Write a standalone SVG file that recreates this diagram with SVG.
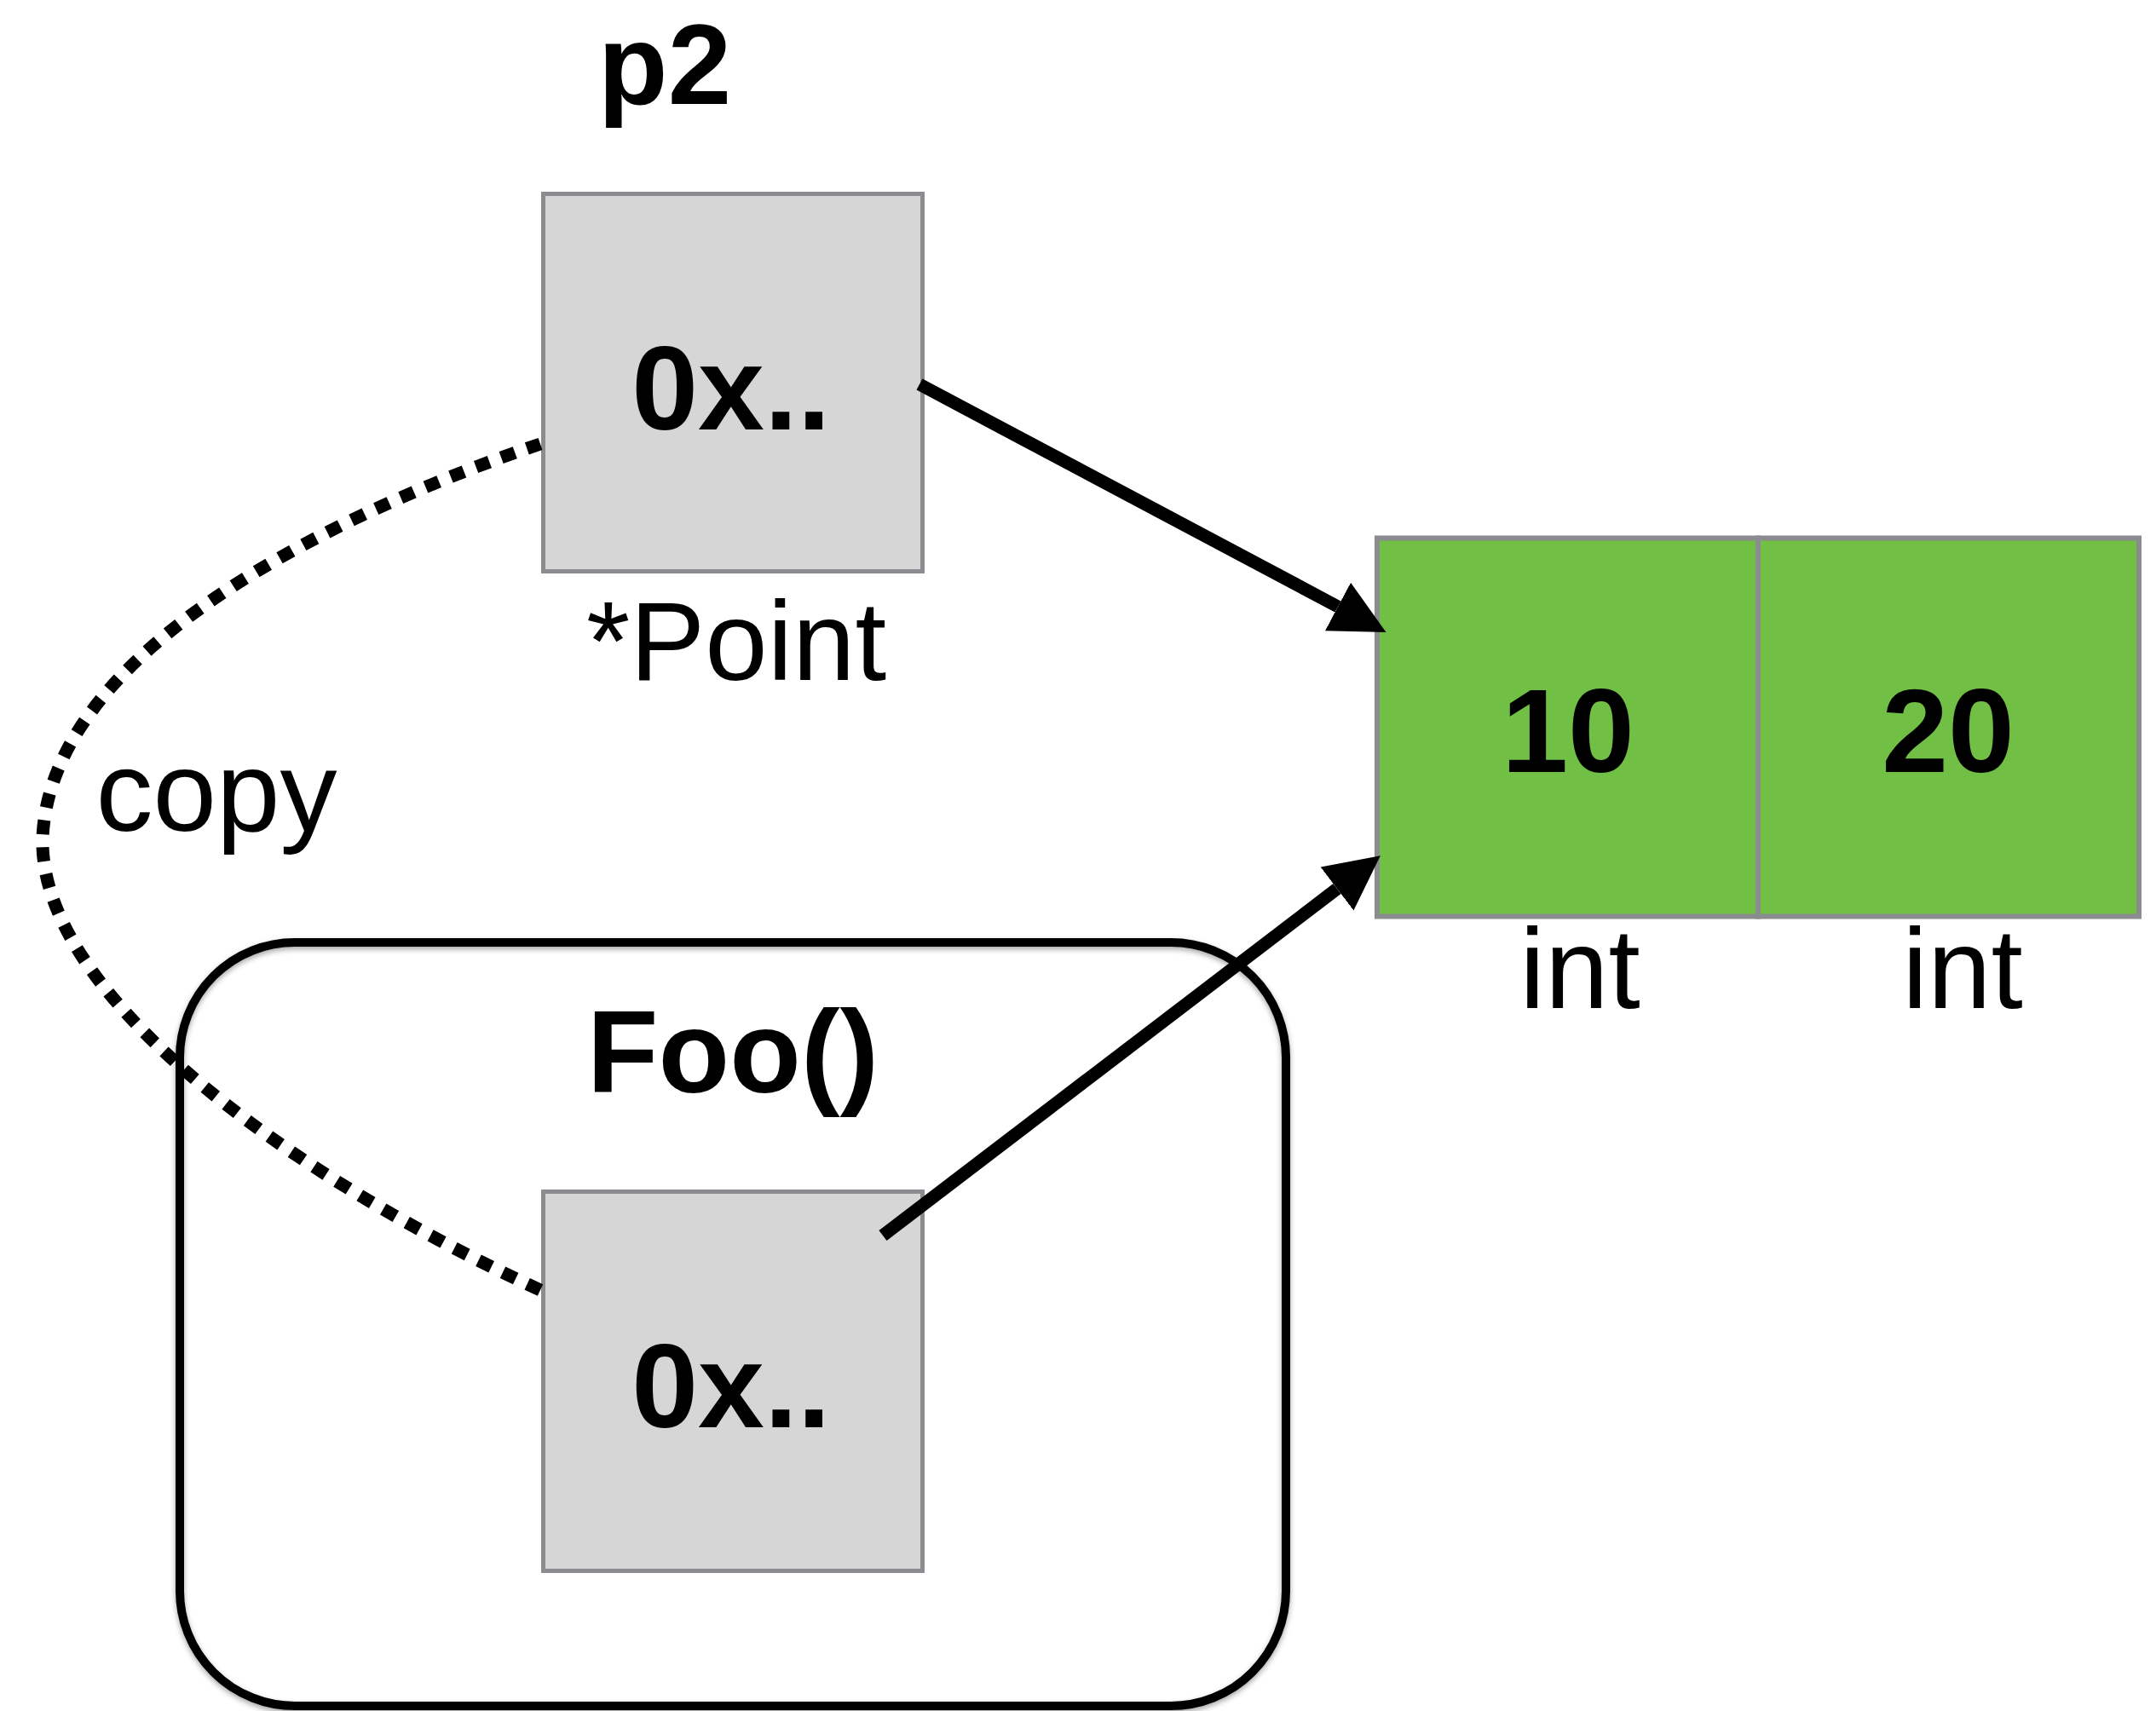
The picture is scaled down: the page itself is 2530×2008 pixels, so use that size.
<svg xmlns="http://www.w3.org/2000/svg" width="2530" height="2008" viewBox="0 0 2530 2008">
  <style>
    .cell { fill: #d6d6d6; stroke: #8a8c8f; stroke-width: 5; }
    .num { fill: #71bf44; stroke: #8a8c8f; stroke-width: 6; }
    .frame { fill: none; stroke: #000; stroke-width: 10; }
    .bold { font-family: "Liberation Sans", Arial, sans-serif; font-weight: bold; fill: #000; text-anchor: middle; }
    .plain { font-family: "Liberation Sans", Arial, sans-serif; font-weight: normal; fill: #000; text-anchor: middle; }
    .ptr { fill: none; stroke: #000; stroke-width: 15; }
    .copy { fill: none; stroke: #000; stroke-width: 15; stroke-dasharray: 17 15; }
  </style>
  <defs>
    <marker id="head" markerUnits="userSpaceOnUse" markerWidth="66" markerHeight="66" refX="0" refY="32" orient="auto">
      <path d="M0,0 L64,32 L0,64 Z" fill="#000"/>
    </marker>
    <filter id="shadow" x="-5%" y="-5%" width="110%" height="110%">
      <feDropShadow dx="0" dy="3" stdDeviation="3" flood-color="#000" flood-opacity="0.35"/>
    </filter>
  </defs>

  <rect width="2530" height="2008" fill="#fff"/>

  <!-- stack frame of Foo() -->
  <g id="foo-frame">
    <rect class="frame" x="211" y="1106" width="1298" height="896" rx="135" ry="135" filter="url(#shadow)"/>
    <text class="bold" x="860" y="1282" font-size="137">Foo()</text>
  </g>

  <!-- pointer variable p2 -->
  <g id="p2">
    <text class="bold" x="780" y="122" font-size="134">p2</text>
    <rect class="cell" x="637.5" y="227.5" width="445" height="443"/>
    <text class="bold" x="858" y="504" font-size="140">0x..</text>
    <text class="plain" x="864" y="798" font-size="132">*Point</text>
  </g>

  <!-- copied pointer inside Foo() -->
  <g id="p-copy">
    <rect class="cell" x="637.5" y="1398.5" width="445" height="445"/>
    <text class="bold" x="858" y="1675" font-size="140">0x..</text>
  </g>

  <!-- Point value: two ints -->
  <g id="point">
    <rect class="num" x="1616" y="631.5" width="447" height="444"/>
    <rect class="num" x="2063" y="631.5" width="447" height="444"/>
    <text class="bold" x="1840" y="906" font-size="140">10</text>
    <text class="bold" x="2286" y="906" font-size="140">20</text>
    <text class="plain" x="1854" y="1183" font-size="134">int</text>
    <text class="plain" x="2303" y="1183" font-size="134">int</text>
  </g>

  <!-- connectors -->
  <g id="connectors">
    <!-- pathLength fits a whole number of dash periods so both ends finish on a full dot -->
    <path class="copy" pathLength="1617" d="M634,521 C400,600 60,760 50,983 C45,1160 320,1370 634,1514"/>
    <text class="plain" x="254" y="975" font-size="134">copy</text>
    <line class="ptr" x1="1079" y1="451" x2="1570" y2="712" marker-end="url(#head)"/>
    <line class="ptr" x1="1036" y1="1450" x2="1569" y2="1043" marker-end="url(#head)"/>
  </g>
</svg>
